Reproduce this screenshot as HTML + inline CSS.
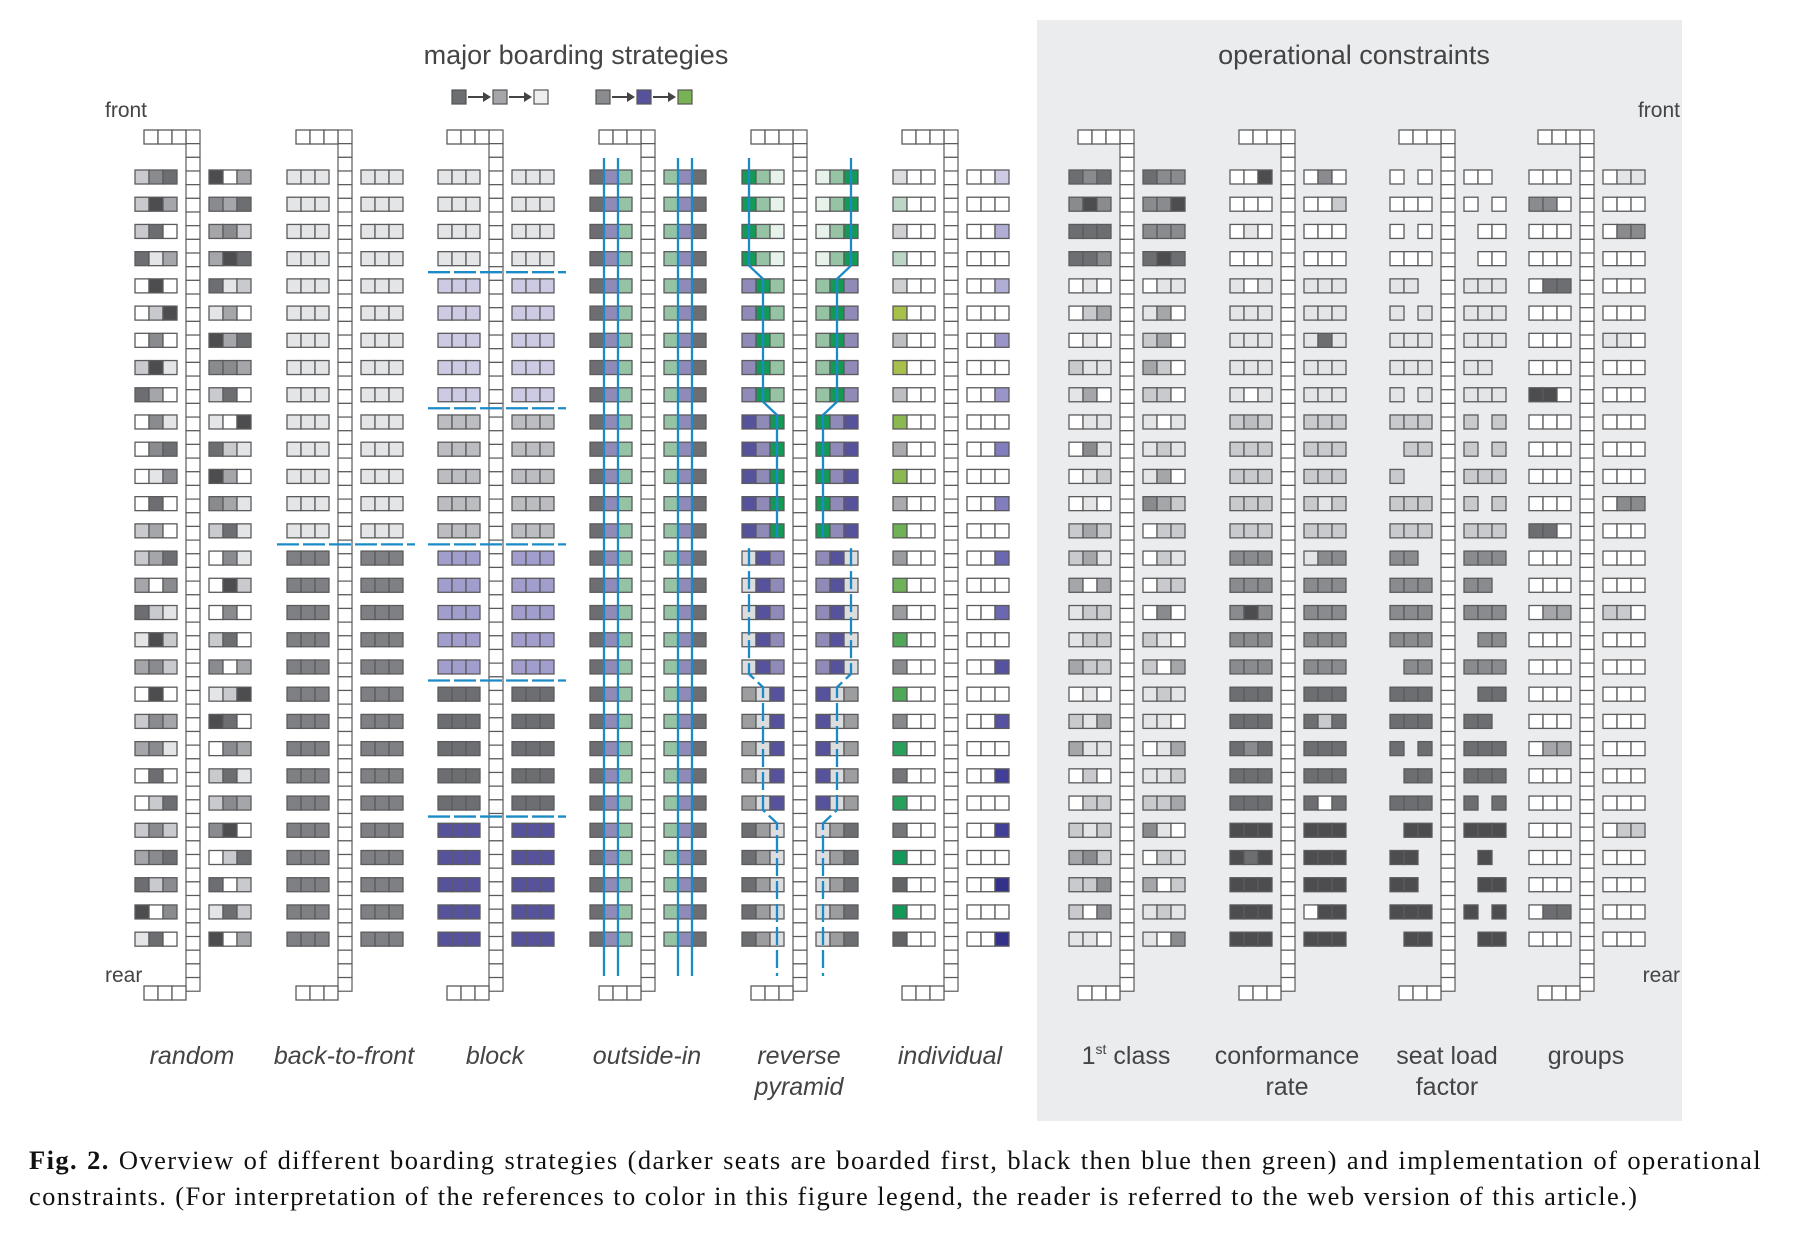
<!DOCTYPE html>
<html><head><meta charset="utf-8">
<style>
html,body{margin:0;padding:0;background:#fff;}
body{width:1794px;height:1236px;overflow:hidden;position:relative;font-family:"Liberation Sans",sans-serif;}
svg{position:absolute;left:0;top:0;}
.cap{position:absolute;left:29px;width:1733px;font-family:"Liberation Serif",serif;font-size:26.5px;letter-spacing:1.4px;color:#111;text-align:justify;text-align-last:justify;white-space:nowrap;}
</style></head>
<body>
<svg id="fig" width="1794" height="1236" viewBox="0 0 1794 1236" xmlns="http://www.w3.org/2000/svg">
<rect x="1037" y="20" width="645" height="1101" fill="#ebecee"/>
<text x="576" y="64" font-size="27" fill="#444" text-anchor="middle" font-family="Liberation Sans">major boarding strategies</text>
<text x="1354" y="64" font-size="27" fill="#444" text-anchor="middle" font-family="Liberation Sans">operational constraints</text>
<text x="105" y="117" font-size="21" fill="#444">front</text>
<text x="105" y="982" font-size="21" fill="#444">rear</text>
<text x="1680" y="117" font-size="21" fill="#444" text-anchor="end">front</text>
<text x="1680" y="982" font-size="21" fill="#444" text-anchor="end">rear</text>
<g id="layer"></g>
</svg>
<div class="cap" style="top:1145px;"><b>Fig. 2.</b> Overview of different boarding strategies (darker seats are boarded first, black then blue then green) and implementation of operational</div>
<div class="cap" style="top:1181px;text-align-last:left;">constraints. (For interpretation of the references to color in this figure legend, the reader is referred to the web version of this article.)</div>
<script>
// ---- data ----
const panelNames = ["random","back-to-front","block","outside-in","reverse-pyramid","individual","first-class","conformance-rate","seat-load-factor","groups"];
const panelX = [135,287,438,590,742,893,1069,1230,1390,1529];
const randomRows = ["245603","263435","250342","513365","060512","026130","040635","261443","530250","041106","045521","014630","050431","230251","235041","304062","521040","162250","342403","060126","243650","341043","050251","025243","242460","345025","524502","604152","150603"];
const backToFrontRows = ["111111","111111","111111","111111","111111","111111","111111","111111","111111","111111","111111","111111","111111","111111","pppppp","pppppp","pppppp","pppppp","pppppp","pppppp","pppppp","pppppp","pppppp","pppppp","pppppp","pppppp","pppppp","pppppp","pppppp"];
const blockRows = ["111111","111111","111111","111111","aaaaaa","aaaaaa","aaaaaa","aaaaaa","aaaaaa","nnnnnn","nnnnnn","nnnnnn","nnnnnn","nnnnnn","bbbbbb","bbbbbb","bbbbbb","bbbbbb","bbbbbb","555555","555555","555555","555555","555555","cccccc","cccccc","cccccc","cccccc","cccccc"];
const outsideInRows = ["5dhhd5","5dhhd5","5dhhd5","5dhhd5","5dhhd5","5dhhd5","5dhhd5","5dhhd5","5dhhd5","5dhhd5","5dhhd5","5dhhd5","5dhhd5","5dhhd5","5dhhd5","5dhhd5","5dhhd5","5dhhd5","5dhhd5","5dhhd5","5dhhd5","5dhhd5","5dhhd5","5dhhd5","5dhhd5","5dhhd5","5dhhd5","5dhhd5","5dhhd5"];
const reversePyramidRows = ["ghkkhg","ghkkhg","ghkkhg","ghkkhg","dghhgd","dghhgd","dghhgd","dghhgd","dghhgd","cdggdc","cdggdc","cdggdc","cdggdc","cdggdc","lcddcl","lcddcl","lcddcl","lcddcl","lcddcl","mlcclm","mlcclm","mlcclm","mlcclm","mlcclm","5mllm5","5mllm5","5mllm5","5mllm5","5mllm5"];
const individualLeft = ["#dcdddf","#bcd6c6","#cfd0d2","#bcd6c6","#cfd0d2","#a7c04a","#bdbec2","#a7c04a","#bdbec2","#8cb852","#a9aaad","#8cb852","#a9aaad","#6fb156","#9b9c9f","#6fb156","#9b9c9f","#4fa858","#8a8b8e","#4fa858","#87888b","#26a05c","#75767a","#26a05c","#75767a","#12995a","#636466","#12995a","#636466"];
const individualRight = ["#cdcbe4","#fff","#b1aed6","#fff","#b1aed6","#fff","#9a95c8","#fff","#9a95c8","#fff","#827dbd","#fff","#827dbd","#fff","#6c67b1","#fff","#6c67b1","#fff","#55529f","#fff","#55529f","#fff","#413f98","#fff","#413f98","#fff","#34318a","#fff","#34318a"];
const firstClassRows = ["545544","464446","555444","554565","010011","023130","010230","211320","130220","011101","041121","012130","010432","232022","231021","303022","122040","122210","322203","010121","213110","311013","020112","022223","212410","342021","224302","204121","110104"];
const conformanceRows = ["006040","000002","010000","000000","101111","111111","111151","111111","101111","2n2222","222222","222222","222212","222222","444144","444444","464444","444444","444444","555555","555525","545555","555555","555505","666666","656666","666666","666066","666666"];
const seatLoadRows = ["0-000-","0000-0","0-0-00","000-00","11-111","1-1111","111111","11111-","1-1111","2222-2","-222-2","2--222","2222-2","222222","44-444","44444-","444444","444-44","-44444","555-55","55555-","5-5555","-55555","5555-5","-66666","66--6-","66--66","6666-6","-66-66"];
const groupsRows = ["000011","440000","000044","000000","055000","000000","000110","000000","660000","000000","000000","000000","000044","550000","000000","000000","033220","000000","000000","000000","000000","033000","000000","000000","000022","000000","000000","055000","000000"];
const palette = {"0":"#ffffff","1":"#e4e5e7","2":"#c9cacd","3":"#a5a6a9","4":"#8a8b8e","5":"#6d6e71","6":"#4d4d4f","n":"#bcbdc0","p":"#7f8083","a":"#cdcae3","b":"#a19dcc","c":"#57529c","d":"#8f8ab8","g":"#159a55","h":"#95c3a4","k":"#e6f2ea","l":"#dcdddf","m":"#9c9d9f"};
const labelTexts = [["random"],["back-to-front"],["block"],["outside-in"],["reverse","pyramid"],["individual"],["1st class"],["conformance","rate"],["seat load","factor"],["groups"]];

// ---- geometry ----
const NS="http://www.w3.org/2000/svg";
const layer=document.getElementById('layer');
const ROW0=170, PITCH=27.22, SW=14, SH=14, STROKE="#5b5b5d";
const AISLE_N=63, AISLE_H=13.67, BOTTOM_Y=986;
function rowY(i){return ROW0+i*PITCH;}
function mk(tag,attrs,parent){const e=document.createElementNS(NS,tag);for(const k in attrs)e.setAttribute(k,attrs[k]);(parent||layer).appendChild(e);return e;}
function seat(x,y,fill,g){const r=mk('rect',{x:x,y:y,width:SW,height:SH,fill:fill,stroke:STROKE,'stroke-width':1.3},g);return r;}

const panelRows=[randomRows,backToFrontRows,blockRows,outsideInRows,reversePyramidRows,null,firstClassRows,conformanceRows,seatLoadRows,groupsRows];

panelX.forEach((x0,p)=>{
  const g=mk('g',{});
  
  
  for(let k=0;k<AISLE_N;k++){const r=mk('rect',{x:x0+51,y:130+k*AISLE_H,width:SW,height:AISLE_H,fill:'#fff',stroke:STROKE,'stroke-width':1.2},g);}
  for(let s=0;s<3;s++){seat(x0+9+s*14,130,'#fff',g);seat(x0+9+s*14,BOTTOM_Y,'#fff',g);}
  for(let i=0;i<29;i++){
    const y=rowY(i);
    let cols;
    if(p===5){cols=[individualLeft[i],'#fff','#fff','#fff','#fff',individualRight[i]];}
    else cols=panelRows[p][i].split('').map(c=>c==='-'?null:palette[c]);
    for(let s=0;s<6;s++){
      if(!cols[s])continue;
      const sx= s<3 ? x0+s*14 : x0+74+(s-3)*14;
      seat(sx,y,cols[s],g);
    }
  }
  const lines=labelTexts[p];
  lines.forEach((t,j)=>{
    const tx=mk('text',{x:x0+57,y:1064+j*31,'font-size':25,fill:'#444','text-anchor':'middle','font-style':p<6?'italic':'normal','font-family':'Liberation Sans'});
    
    
    if(p===6&&j===0){tx.textContent='1';const ts=mk('tspan',{'font-size':14,dy:-10},tx);ts.textContent='st';const ts2=mk('tspan',{dy:10},tx);ts2.textContent=' class';}
    else tx.textContent=t;
  });
});

const BLUE="#1b8bc8";
function hdash(x0,i,name){const y=rowY(i)-6.7;const l=mk('line',{x1:x0-10,x2:x0+128,y1:y,y2:y,stroke:BLUE,'stroke-width':2.3,'stroke-dasharray':'22 4'});}
hdash(panelX[1],14,'back-to-front-divider');
[4,9,14,19,24].forEach(i=>hdash(panelX[2],i,'block-divider'));
[14,28,88,102].forEach(dx=>{const l=mk('line',{x1:panelX[3]+dx,x2:panelX[3]+dx,y1:158,y2:976,stroke:BLUE,'stroke-width':2.3});});
function rpPath(dir){
  const x=panelX[4];
  const c=k=>dir>0? x+7+k*14 : x+109-k*14;
  const solid=`M${c(0)},158 L${c(0)},${rowY(3)+14} L${c(1)},${rowY(4)} L${c(1)},${rowY(8)+14} L${c(2)},${rowY(9)} L${c(2)},${rowY(13)+14}`;
  const dashed=`M${c(0)},${rowY(14)-3} L${c(0)},${rowY(18)+14} L${c(1)},${rowY(19)} L${c(1)},${rowY(23)+14} L${c(2)},${rowY(24)} L${c(2)},976`;
  const a=mk('path',{d:solid,fill:'none',stroke:BLUE,'stroke-width':2.3});
  const b=mk('path',{d:dashed,fill:'none',stroke:BLUE,'stroke-width':2.3,'stroke-dasharray':'18 5'});
}
rpPath(1);rpPath(-1);

function legend(x,cols,name){
  const g=mk('g',{});
  cols.forEach((c,i)=>{
    const sx=x+i*41;
    mk('rect',{x:sx,y:90,width:14,height:14,fill:c,stroke:'#555','stroke-width':1.2},g);
    if(i<2){mk('line',{x1:sx+16,x2:sx+32,y1:97,y2:97,stroke:'#444','stroke-width':2},g);mk('path',{d:`M${sx+31},92 L${sx+39},97 L${sx+31},102 Z`,fill:'#444'},g);}
  });
}
legend(452,['#6d6e71','#a5a6a9','#eeeeef'],'legend-grey-order');
legend(596,['#8a8b8e','#57529c','#79b255'],'legend-color-order');
</script>
</body></html>
